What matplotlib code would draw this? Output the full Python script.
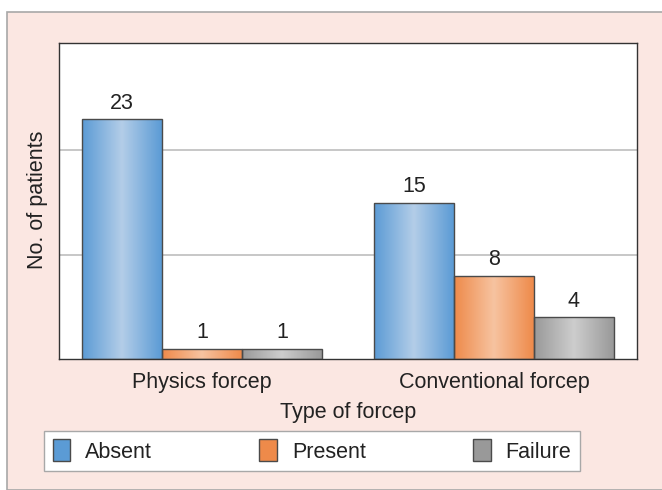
import numpy as np
import matplotlib
matplotlib.use("Agg")
import matplotlib.pyplot as plt
from matplotlib.patches import Rectangle
from matplotlib.colors import LinearSegmentedColormap

plt.rcParams['font.family'] = ['Liberation Sans', 'DejaVu Sans']

categories = ["Physics forcep", "Conventional forcep"]
series = ["Absent", "Present", "Failure"]
absent = [23, 15]
present = [1, 8]
failure = [1, 4]
values = [absent, present, failure]

edge_cols = ["#5B9BD5", "#EE8A4A", "#999999"]
mid_cols = ["#B3CDE8", "#F7C3A0", "#CDCDCD"]

W, H = 662, 490
fig = plt.figure(figsize=(W / 100, H / 100), dpi=100)
fig.patch.set_facecolor("white")
fig.patches.append(Rectangle((7 / W, 0), 1, 1 - 12 / H, transform=fig.transFigure,
                             facecolor="#FBE7E2", edgecolor="#A8A8A8", lw=1.2, zorder=-10))

ax = fig.add_axes([59 / W, 1 - 359 / H, (637 - 59) / W, (359 - 43) / H])
ax.set_zorder(1)
ax.set_facecolor("white")
ax.set_xlim(-0.49, 1.49)
ax.set_ylim(0, 30.3)

x = np.arange(len(categories))
w = 0.274
offsets = [-w, 0, w]
grad = np.linspace(0, 1, 256)
grad = np.abs(grad - 0.5) * 2
grad = grad.reshape(1, -1)

FS = 15.5

handles = []
for i, (s, vals) in enumerate(zip(series, values)):
    bars = ax.bar(x + offsets[i], vals, width=w, facecolor="none", edgecolor="#4A4A4A",
                  lw=1.0, zorder=3)
    cmap = LinearSegmentedColormap.from_list("g%d" % i, [mid_cols[i], edge_cols[i]])
    for b, v in zip(bars, vals):
        x0, y0 = b.get_x(), b.get_y()
        im = ax.imshow(grad, cmap=cmap, aspect="auto", extent=[x0, x0 + b.get_width(), y0, y0 + b.get_height()],
                       zorder=2, interpolation="bilinear")
        im.set_clip_path(b)
        ax.annotate(str(v), (b.get_x() + b.get_width() / 2, v), xytext=(0, 4),
                    textcoords="offset points", ha="center", va="bottom", fontsize=FS, color="#222222")
    handles.append(Rectangle((0, 0), 1, 1, facecolor=edge_cols[i], edgecolor="#4A4A4A", lw=1.0))

ax.set_xticks(x)
ax.set_xticklabels(categories, fontsize=FS, color="#222222")
ax.tick_params(axis="x", length=0, pad=9)
ax.set_yticks([10, 20])
ax.set_yticklabels([])
ax.tick_params(axis="y", length=0)
ax.grid(axis="y", color="#BDBDBD", lw=1.2, zorder=1)
ax.set_axisbelow(True)
for sp in ax.spines.values():
    sp.set_color("#333333")
    sp.set_linewidth(1.0)

ax.set_xlabel("Type of forcep", fontsize=FS, color="#222222", labelpad=7)
fig.text(38 / W, 1 - 200 / H, "No. of patients", rotation=90, ha="center", va="center",
         fontsize=FS, color="#222222")

leg = fig.legend(handles, series, loc="center", bbox_to_anchor=(312 / W, 1 - 451 / H),
                 ncol=3, fontsize=FS, frameon=True, fancybox=False, framealpha=1,
                 handlelength=0.8, handleheight=1.2, columnspacing=5.0, handletextpad=0.7,
                 borderpad=0.4)
leg.get_frame().set_edgecolor("#A8A8A8")
leg.get_frame().set_linewidth(1.0)
for t in leg.get_texts():
    t.set_color("#222222")

fig.savefig("out.png", dpi=100)
